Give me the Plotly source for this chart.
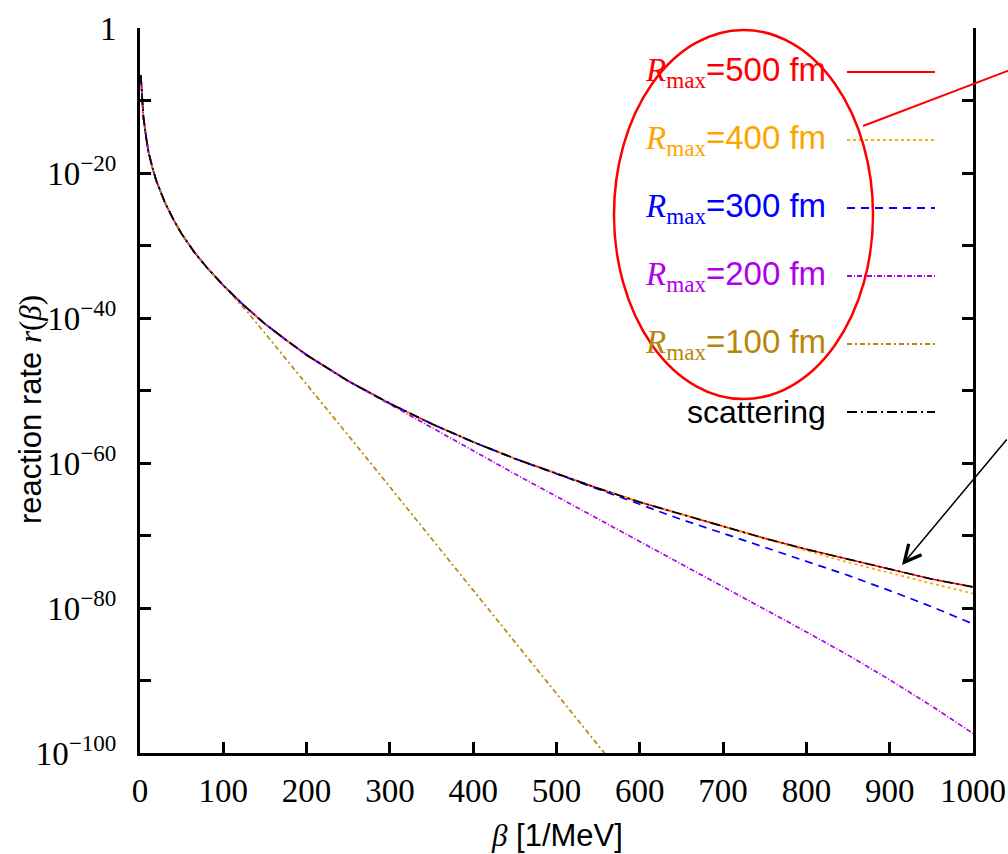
import numpy as np
import plotly.graph_objects as go

# ---------------- data (log10 of reaction rate) ----------------
beta_scat = [1, 2, 4, 7, 10, 15, 20, 30, 40, 50, 65, 80, 100, 125, 150, 175, 200, 250, 275, 300,
             350, 400, 450, 500, 550, 600, 650, 700, 750, 800, 850, 900, 950, 1000]
log_scat = [-6.5, -9.2, -12.2, -14.8, -17.0, -19.3, -21.2, -24.1, -26.4, -28.4, -30.9, -33.0, -35.5,
            -38.3, -40.8, -43.0, -45.1, -48.7, -50.3, -51.8, -54.6, -57.1, -59.4, -61.5, -63.5,
            -65.4, -67.1, -68.8, -70.4, -71.9, -73.3, -74.7, -76.0, -77.1]

beta_r500 = beta_scat
log_r500 = log_scat

beta_r400 = beta_scat
log_r400 = [-6.5, -9.2, -12.2, -14.8, -17.0, -19.3, -21.2, -24.1, -26.4, -28.4, -30.9, -33.0, -35.5,
            -38.3, -40.8, -43.0, -45.1, -48.7, -50.3, -51.8, -54.6, -57.1, -59.4, -61.5, -63.5,
            -65.4, -67.1, -68.8, -70.5, -72.1, -73.7, -75.2, -76.6, -78.0]

beta_r300 = beta_scat
log_r300 = [-6.5, -9.2, -12.2, -14.8, -17.0, -19.3, -21.2, -24.1, -26.4, -28.4, -30.9, -33.0, -35.5,
            -38.3, -40.8, -43.0, -45.1, -48.7, -50.3, -51.8, -54.6, -57.1, -59.4, -61.5, -63.6,
            -65.8, -67.8, -69.7, -71.6, -73.5, -75.5, -77.6, -79.8, -82.2]

beta_r200 = beta_scat
log_r200 = [-6.5, -9.2, -12.2, -14.8, -17.0, -19.3, -21.2, -24.1, -26.4, -28.4, -30.9, -33.0, -35.5,
            -38.3, -40.8, -43.0, -45.1, -48.7, -50.3, -52.0, -55.2, -58.4, -61.5, -64.6, -67.7,
            -70.9, -74.0, -77.1, -80.2, -83.3, -86.5, -89.9, -93.5, -97.3]

beta_r100 = [1, 2, 4, 7, 10, 15, 20, 30, 40, 50, 65, 80, 100, 115, 130, 150, 200, 250, 300,
             400, 500, 556, 575]
log_r100 = [-6.5, -9.2, -12.2, -14.8, -17.0, -19.3, -21.2, -24.1, -26.4, -28.4, -30.9, -33.0, -35.5,
            -37.3, -39.3, -42.1, -49.1, -56.2, -63.3, -77.6, -91.8, -99.8, -102.5]

x_ticks = [0, 100, 200, 300, 400, 500, 600, 700, 800, 900, 1000]
y_tick_exps = [0, -10, -20, -30, -40, -50, -60, -70, -80, -90, -100]
y_tick_text = ["1", "", "10<sup>−20</sup>", "", "10<sup>−40</sup>", "", "10<sup>−60</sup>", "",
               "10<sup>−80</sup>", "", "10<sup>−100</sup>"]

legend_labels = ["500", "400", "300", "200", "100"]

# ---------------- styles ----------------
SERIF = "Liberation Serif, Times New Roman, serif"
SANS = "Liberation Sans, Arial, sans-serif"

series = [
    (beta_r500, log_r500, "#ff0000", "solid"),
    (beta_r400, log_r400, "#ffa500", "dot"),
    (beta_r300, log_r300, "#0000ff", "8px,6px"),
    (beta_r200, log_r200, "#b000e8", "5px,2px,1px,2px"),
    (beta_r100, log_r100, "#b8860b", "5px,3px,2px,3px"),
    (beta_scat, log_scat, "#000000", "10px,4px,2px,4px"),
]
names = ["R_max=500 fm", "R_max=400 fm", "R_max=300 fm", "R_max=200 fm", "R_max=100 fm", "scattering"]

W, H = 1008, 854
L, R, T, B = 140, 35, 28, 101
PW, PH = W - L - R, H - T - B


def px(x):
    return (x - L) / PW


def py(y):
    return (H - B - y) / PH


fig = go.Figure()
for (bx, lg, col, dash), name in zip(series, names):
    fig.add_trace(go.Scatter(
        x=bx, y=np.power(10.0, np.array(lg)), mode="lines", name=name,
        line=dict(color=col, width=1.7, dash=dash),
        showlegend=False, cliponaxis=True))

# ---------------- custom gnuplot-like key ----------------
row_y = [72, 140, 208, 276, 344, 412]
shapes = []
annotations = []
for i, (bx, lg, col, dash) in enumerate(series):
    shapes.append(dict(type="line", xref="paper", yref="paper",
                       x0=px(847), x1=px(935), y0=py(row_y[i]), y1=py(row_y[i]),
                       line=dict(color=col, width=1.8, dash=dash)))
    if i < 5:
        txt = (f"<span style='font-family:{SERIF}'><i>R</i><sub>max</sub></span>"
               f"<span style='font-family:{SANS}'>={legend_labels[i]} fm</span>")
        annotations.append(dict(xref="paper", yref="paper", x=px(828), y=py(row_y[i]),
                                xanchor="right", yanchor="middle", text=txt, showarrow=False,
                                font=dict(size=33, color=col, family=SANS)))
    else:
        annotations.append(dict(xref="paper", yref="paper", x=px(828), y=py(row_y[i]),
                                xanchor="right", yanchor="middle", text="scattering",
                                showarrow=False, font=dict(size=32, color="#000000", family=SANS)))

# red ellipse + line
shapes.append(dict(type="circle", xref="paper", yref="paper",
                   x0=px(614), x1=px(873), y0=py(399), y1=py(30),
                   line=dict(color="#ff0000", width=2.5)))
shapes.append(dict(type="line", xref="paper", yref="paper",
                   x0=px(863), y0=py(126), x1=px(1010), y1=py(70),
                   line=dict(color="#ff0000", width=2)))

# black arrow
annotations.append(dict(xref="paper", yref="paper", x=px(902), y=py(565),
                        ax=1010 - 902, ay=438 - 565, axref="pixel", ayref="pixel",
                        text="", showarrow=True, arrowhead=5, arrowsize=2.2,
                        arrowwidth=1.5, arrowcolor="#000000"))

# axis titles
annotations.append(dict(xref="paper", yref="paper", x=px(557), y=py(835),
                        xanchor="center", yanchor="middle", showarrow=False,
                        text=(f"<span style='font-family:{SERIF}'><i>β</i></span>"
                              f"<span style='font-family:{SANS}'> [1/MeV]</span>"),
                        font=dict(size=31, color="#000000", family=SANS)))
annotations.append(dict(xref="paper", yref="paper", x=px(30), y=py(410),
                        xanchor="center", yanchor="middle", showarrow=False, textangle=-90,
                        text=(f"<span style='font-family:{SANS}'>reaction rate </span>"
                              f"<span style='font-family:{SERIF}'><i>r</i>(<i>β</i>)</span>"),
                        font=dict(size=31, color="#000000", family=SANS)))

fig.update_layout(
    width=W, height=H, autosize=False,
    margin=dict(l=L, r=R, t=T, b=B, pad=0, autoexpand=False),
    paper_bgcolor="white", plot_bgcolor="white",
    shapes=shapes, annotations=annotations,
    showlegend=False,
    xaxis=dict(range=[0, 1000], tickvals=x_ticks, ticktext=[str(v) for v in x_ticks],
               ticks="inside", ticklen=11, tickwidth=2.5, tickcolor="black",
               showline=True, linecolor="black", linewidth=3, mirror=False,
               showgrid=False, zeroline=False, ticklabelstandoff=6,
               automargin=False, ticklabeloverflow="allow",
               tickfont=dict(family=SERIF, size=33, color="black")),
    yaxis=dict(type="log", range=[-100, 0],
               tickvals=[10.0 ** e for e in y_tick_exps], ticktext=y_tick_text,
               ticks="inside", ticklen=11, tickwidth=2.5, tickcolor="black",
               showline=True, linecolor="black", linewidth=3, mirror="ticks",
               showgrid=False, zeroline=False, ticklabelstandoff=14,
               automargin=False, ticklabeloverflow="allow",
               tickfont=dict(family=SERIF, size=33, color="black")),
)

fig.write_html("out.html")
